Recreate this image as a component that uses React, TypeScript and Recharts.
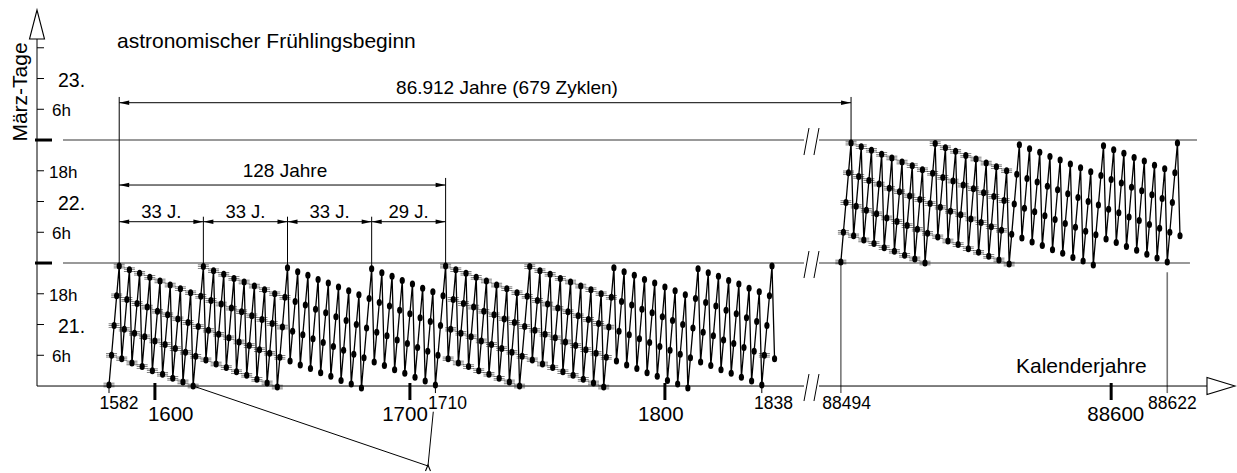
import React from "react";
import { ComposedChart, Line, XAxis, YAxis, ReferenceLine, ReferenceDot } from "recharts";

const FONT = '"Liberation Sans", Arial, Helvetica, sans-serif';
const W = 1237;
const H = 473;

// Frühlingsbeginn in Stunden nach dem 21. März 0h, ein Wert je Jahr ab 1582
const hours1582 = [
  0.2, 6.0, 11.8, 17.6, 23.4,
  5.3, 11.1, 16.9, 22.7, 4.5, 10.3, 16.1, 22.0, 3.8, 9.6, 15.4, 21.2, 3.0, 8.8, 14.6, 20.5,
  2.3, 8.1, 13.9, 19.7, 1.5, 7.3, 13.1, 19.0, 0.8, 6.6, 12.4, 18.2,
  0.0, 5.8, 11.6, 17.5, 23.3,
  5.1, 10.9, 16.7, 22.5, 4.3, 10.1, 16.0, 21.8, 3.6, 9.4, 15.2, 21.0, 2.8, 8.6, 14.5, 20.3,
  2.1, 7.9, 13.7, 19.5, 1.3, 7.1, 13.0, 18.8, 0.6, 6.4, 12.2, 18.0,
  -0.2, 5.6, 11.5, 17.3, 23.1,
  4.9, 10.7, 16.5, 22.3, 4.1, 10.0, 15.8, 21.6, 3.4, 9.2, 15.0, 20.8, 2.6, 8.5, 14.3, 20.1,
  1.9, 7.7, 13.5, 19.3, 1.1, 7.0, 12.8, 18.6, 0.4, 6.2, 12.0, 17.8,
  -0.4, 5.5, 11.3, 17.1, 22.9,
  4.7, 10.5, 16.3, 22.1, 4.0, 9.8, 15.6, 21.4, 3.2, 9.0, 14.8, 20.6, 2.5, 8.3, 14.1, 19.9,
  1.7, 7.5, 13.3, 19.1, 1.0, 6.8, 12.6, 18.4,
  // ab 1710
  0.2, 6.0, 11.8, 17.6, 23.4,
  5.3, 11.1, 16.9, 22.7, 4.5, 10.3, 16.1, 22.0, 3.8, 9.6, 15.4, 21.2, 3.0, 8.8, 14.6, 20.5,
  2.3, 8.1, 13.9, 19.7, 1.5, 7.3, 13.1, 19.0, 0.8, 6.6, 12.4, 18.2,
  0.0, 5.8, 11.6, 17.5, 23.3,
  5.1, 10.9, 16.7, 22.5, 4.3, 10.1, 16.0, 21.8, 3.6, 9.4, 15.2, 21.0, 2.8, 8.6, 14.5, 20.3,
  2.1, 7.9, 13.7, 19.5, 1.3, 7.1, 13.0, 18.8, 0.6, 6.4, 12.2, 18.0,
  -0.2, 5.6, 11.5, 17.3, 23.1,
  4.9, 10.7, 16.5, 22.3, 4.1, 10.0, 15.8, 21.6, 3.4, 9.2, 15.0, 20.8, 2.6, 8.5, 14.3, 20.1,
  1.9, 7.7, 13.5, 19.3, 1.1, 7.0, 12.8, 18.6, 0.4, 6.2, 12.0, 17.8,
  -0.4, 5.5, 11.3, 17.1, 22.9,
  4.7, 10.5, 16.3, 22.1, 4.0, 9.8, 15.6, 21.4, 3.2, 9.0, 14.8, 20.6, 2.5, 8.3, 14.1, 19.9,
  1.7, 7.5, 13.3, 19.1, 1.0, 6.8, 12.6, 18.4,
  // ab 1838
  0.2, 6.0, 11.8, 17.6, 23.4, 5.3,
];

// dasselbe ab 88494 (ein Tag später)
const hours88494 = [
  24.2, 30.0, 35.8, 41.6, 47.4,
  29.3, 35.1, 40.9, 46.7, 28.5, 34.3, 40.1, 46.0, 27.8, 33.6, 39.4, 45.2, 27.0, 32.8, 38.6, 44.5,
  26.3, 32.1, 37.9, 43.7, 25.5, 31.3, 37.1, 43.0, 24.8, 30.6, 36.4, 42.2,
  24.0, 29.8, 35.6, 41.5, 47.3,
  29.1, 34.9, 40.7, 46.5, 28.3, 34.1, 40.0, 45.8, 27.6, 33.4, 39.2, 45.0, 26.8, 32.6, 38.5, 44.3,
  26.1, 31.9, 37.7, 43.5, 25.3, 31.1, 37.0, 42.8, 24.6, 30.4, 36.2, 42.0,
  23.8, 29.6, 35.5, 41.3, 47.1,
  28.9, 34.7, 40.5, 46.3, 28.1, 34.0, 39.8, 45.6, 27.4, 33.2, 39.0, 44.8, 26.6, 32.5, 38.3, 44.1,
  25.9, 31.7, 37.5, 43.3, 25.1, 31.0, 36.8, 42.6, 24.4, 30.2, 36.0, 41.8,
  23.6, 29.5, 35.3, 41.1, 46.9,
  28.7, 34.5, 40.3, 46.1, 28.0, 33.8, 39.6, 45.4, 27.2, 33.0, 38.8, 44.6, 26.5, 32.3, 38.1, 43.9,
  25.7, 31.5, 37.3, 43.1, 25.0, 30.8, 36.6, 42.4,
  // ab 88622
  24.2, 30.0, 35.8, 41.6, 47.4, 29.3,
];

const FIRST_LEFT = 1582;
const FIRST_RIGHT = 88494;
// Achsenbruch: rechte Jahre werden um diesen Betrag nach links gerückt
const AXIS_SHIFT = 86625;

// Jahre, deren Punkte in der Vorlage "gefranst" aussehen
const spikyRanges = [[1582, 1651], [1714, 1779], [1839, 1839], [88494, 88560]];

const minorYearTicks = [1582, 1710, 1838];
const majorYearTicks = [1600, 1700, 1800, 88600];
const guideYears = [88494, 88622];
const yearLabels = ["1582", "1600", "1700", "1710", "1800", "1838", "88494", "88600", "88622"];
// Verschiebung der Jahreszahlen gegenüber dem Strich (px)
const labelShift: Record<string, number> = {
  "1582": 10, "1600": 15.8, "1700": -4.9, "1710": 12, "1800": -4.1,
  "1838": 11.7, "88494": 5.8, "88600": 4.6, "88622": 5.2,
};

const hourTicks = [6, 12, 18, 30, 36, 42, 54, 60, 66];
const dayTicks = [24, 48];
const hourLabels = [
  { h: 6, text: "6h" }, { h: 12, text: "21." }, { h: 18, text: "18h" },
  { h: 30, text: "6h" }, { h: 36, text: "22." }, { h: 42, text: "18h" },
  { h: 54, text: "6h" }, { h: 60, text: "23." },
];

const blockYears = [1586, 1619, 1652, 1685, 1714];
const blockLabels = ["33 J.", "33 J.", "33 J.", "29 J."];
const cycleEnd = 88498;

// Achsenbereich (Jahre / Stunden) = ganze Zeichenfläche
const X_MIN = 1539.25;
const X_MAX = 2024.35;
const Y_MIN = -16.97;
const Y_MAX = 75.32;

const toAxis = (year: number) => (year >= FIRST_RIGHT ? year - AXIS_SHIFT : year);
const hourAt = (year: number) =>
  year >= FIRST_RIGHT ? hours88494[year - FIRST_RIGHT] : hours1582[year - FIRST_LEFT];

const leftData = hours1582.map((h, i) => ({ year: FIRST_LEFT + i, t: toAxis(FIRST_LEFT + i), h }));
const rightData = hours88494.map((h, i) => ({ year: FIRST_RIGHT + i, t: toAxis(FIRST_RIGHT + i), h }));

const isSpiky = (year: number) => spikyRanges.some(([a, b]) => year >= a && year <= b);

const renderDot = (p: any) => {
  const { cx, cy, payload, index } = p;
  if (cx == null || cy == null) return <g key={`e${index}`} />;
  return (
    <g key={`d${payload.year}`}>
      {isSpiky(payload.year) &&
        [-1.8, 0, 1.8].map((d) => (
          <line key={d} x1={cx - 5.5} x2={cx + 5.5} y1={cy + d} y2={cy + d} stroke="#000" strokeWidth={0.6} opacity={0.85} />
        ))}
      <ellipse cx={cx} cy={cy} rx={2.6} ry={3.5} fill="#000" />
    </g>
  );
};

const seg = (key: string, x1: number, y1: number, x2: number, y2: number, stroke = "#000", width = 1) => (
  <ReferenceLine
    key={key}
    segment={[{ x: x1, y: y1 }, { x: x2, y: y2 }]}
    stroke={stroke}
    strokeWidth={width}
    ifOverflow="visible"
  />
);

const dimShape = (p: any) => {
  const { x1, y1, x2, y2 } = p;
  return (
    <g>
      <line x1={x1} y1={y1} x2={x2} y2={y2} stroke="#000" strokeWidth={1} />
      <path d={`M${x1},${y1} l10,-2.2 l0,4.4 z`} fill="#000" />
      <path d={`M${x2},${y2} l-10,-2.2 l0,4.4 z`} fill="#000" />
    </g>
  );
};

const dim = (key: string, a: number, b: number, h: number) => (
  <ReferenceLine key={key} segment={[{ x: a, y: h }, { x: b, y: h }]} ifOverflow="visible" shape={dimShape} />
);

const label = (
  key: string, x: number, y: number, text: string, size: number,
  anchor = "middle", dx = 0, dy = 0, rotate = 0,
) => (
  <ReferenceDot
    key={key}
    x={x}
    y={y}
    r={0}
    ifOverflow="visible"
    shape={(p: any) => (
      <text
        x={p.cx + dx}
        y={p.cy + dy}
        textAnchor={anchor as any}
        dominantBaseline="central"
        fontSize={size}
        fontFamily={FONT}
        fill="#000"
        transform={rotate ? `rotate(${rotate} ${p.cx + dx} ${p.cy + dy})` : undefined}
      >
        {text}
      </text>
    )}
  />
);

const mark = (key: string, x: number, y: number, d: (cx: number, cy: number) => string, fill = "#fff") => (
  <ReferenceDot
    key={key}
    x={x}
    y={y}
    r={0}
    ifOverflow="visible"
    shape={(p: any) => <path d={d(p.cx, p.cy)} fill={fill} stroke="#000" strokeWidth={1.1} />}
  />
);

const AXIS_X = 1553.76; // Lage der senkrechten Achse
const BREAK = [1854.54, 1856.5, 1858.46, 1860.42];

export default function App() {
  return (
    <div style={{ position: "absolute", left: 0, top: 0, width: W, height: H, background: "#fff" }}>
      <ComposedChart width={W} height={H} margin={{ top: 0, right: 0, bottom: 0, left: 0 }}>
        <XAxis type="number" dataKey="t" domain={[X_MIN, X_MAX]} allowDataOverflow hide />
        <YAxis type="number" domain={[Y_MIN, Y_MAX]} allowDataOverflow hide />

        {/* graue Tageslinien */}
        {dayTicks.map((h) => seg(`gl${h}`, 1563.96, h, BREAK[0], h, "#777", 1.6))}
        {seg("gr24", BREAK[3], 24, 2005.9, 24, "#777", 1.6)}
        {seg("gr48", BREAK[3], 48, 2008.66, 48, "#777", 1.6)}
        {guideYears.map((y, i) =>
          seg(`gv${y}`, toAxis(y), i === 0 ? hourAt(y) : 22.2, toAxis(y), -1.37, "#777", 1.6),
        )}

        {/* Achsen */}
        {seg("yax", AXIS_X, 0, AXIS_X, 67.71)}
        {seg("xaxl", AXIS_X, 0, BREAK[0], 0)}
        {seg("xaxr", BREAK[3], 0, 2012.58, 0)}
        {mark("yarr", AXIS_X, 73.37, (cx, cy) => `M${cx},${cy} L${cx - 7.5},${cy + 29} L${cx + 7.5},${cy + 29} Z`)}
        {mark("xarr", 2023.56, 0, (cx, cy) => `M${cx},${cy} L${cx - 28},${cy - 8.5} L${cx - 28},${cy + 8.5} Z`)}

        {/* Bruchstriche */}
        {[0, 24, 48].flatMap((h) => [
          seg(`b1${h}`, BREAK[0], h - 2.93, BREAK[1], h + 2.34),
          seg(`b2${h}`, BREAK[2], h - 2.93, BREAK[3], h + 2.34),
        ])}

        {/* Striche an der y-Achse */}
        {hourTicks.map((h) => seg(`yt${h}`, AXIS_X, h, 1556.5, h))}
        {dayTicks.map((h) => seg(`yd${h}`, 1552.98, h, 1559.64, h, "#000", 3))}

        {/* Striche an der x-Achse */}
        {minorYearTicks.map((y) => seg(`xt${y}`, toAxis(y), 0, toAxis(y), -1.37))}
        {majorYearTicks.map((y) => seg(`xm${y}`, toAxis(y), 0.59, toAxis(y), -2.73, "#000", 3))}

        {/* Maßlinien */}
        {seg("ex0", blockYears[0], 56.4, blockYears[0], hourAt(blockYears[0]))}
        {seg("exE", toAxis(cycleEnd), 56.4, toAxis(cycleEnd), hourAt(cycleEnd))}
        {seg("ex128", blockYears[4], 40.6, blockYears[4], hourAt(blockYears[4]))}
        {blockYears.slice(1, 4).map((y) => seg(`ex${y}`, y, 33.04, y, hourAt(y)))}
        {dim("dimAll", blockYears[0], toAxis(cycleEnd), 55.28)}
        {dim("dim128", blockYears[0], blockYears[4], 39.22)}
        {blockLabels.map((_, i) => dim(`dim33${i}`, blockYears[i], blockYears[i + 1], 32.06))}

        {/* Hinweislinien unten */}
        {seg("lead1", 1615, hourAt(1615), 1707.09, -15.6)}
        {seg("lead2", 1709.17, -5.01, 1707.09, -15.6)}
        {mark("leadArr", 1707.09, -15.6, (cx, cy) => `M${cx - 2.5},${cy + 5} L${cx},${cy - 1} L${cx + 2.5},${cy + 5}`, "none")}

        <Line
          data={leftData}
          dataKey="h"
          stroke="#000"
          strokeWidth={1.3}
          dot={renderDot}
          activeDot={false}
          isAnimationActive={false}
        />
        <Line
          data={rightData}
          dataKey="h"
          stroke="#000"
          strokeWidth={1.3}
          dot={renderDot}
          activeDot={false}
          isAnimationActive={false}
        />

        {/* Texte */}
        {label("title", 1585.13, 67.46, "astronomischer Frühlingsbeginn", 21, "start")}
        {label("ytitle", 1547.09, 57.37, "März-Tage", 21, "middle", 0, 0, -90)}
        {label("xtitle", 1937.68, 4.0, "Kalenderjahre", 21, "start")}
        {hourLabels.map(({ h, text }) =>
          label(
            `hl${h}`,
            text.endsWith(".") ? 1561.99 : text === "6h" ? 1559.64 : 1558.47,
            h,
            text,
            text.endsWith(".") ? 19.5 : 17,
            "start",
            0,
            1.5,
          ),
        )}
        {yearLabels.map((text) => {
          const big = majorYearTicks.includes(Number(text));
          return label(
            `xl${text}`,
            toAxis(Number(text)),
            0,
            text,
            big ? 20.5 : 17.5,
            "middle",
            labelShift[text],
            big ? 27 : 17.3,
          );
        })}
        {label("lblAll", 1738.07, 58.34, "86.912 Jahre (679 Zyklen)", 19)}
        {label("lbl128", 1651.01, 42.15, "128 Jahre", 19)}
        {blockLabels.map((text, i) =>
          label(`lb33${i}`, (blockYears[i] + blockYears[i + 1]) / 2, 34.01, text, 18.5),
        )}
      </ComposedChart>
    </div>
  );
}
